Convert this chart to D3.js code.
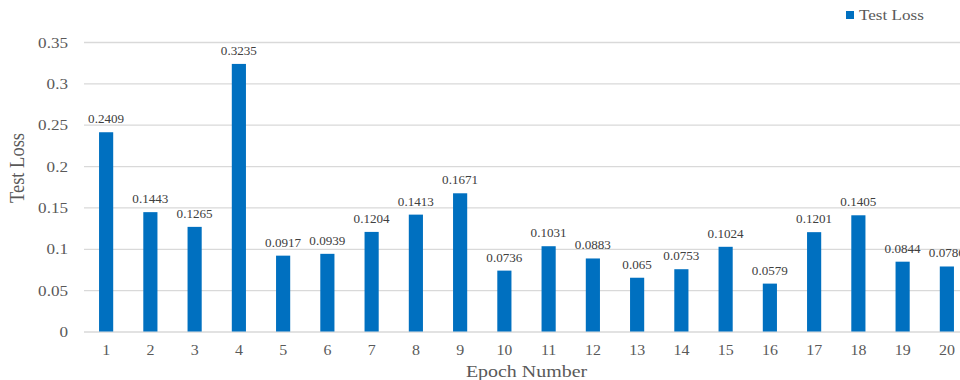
<!DOCTYPE html>
<html>
<head>
<meta charset="utf-8">
<script src="https://cdn.jsdelivr.net/npm/d3@7"></script>
<style>
  html, body { margin: 0; padding: 0; background: #fff; }
  svg { display: block; }
  text { font-family: "Liberation Serif", "Times New Roman", serif; }
</style>
</head>
<body>
<svg id="chart" width="960" height="380"></svg>
<script>
// Test loss per training epoch
const epochs = ["1","2","3","4","5","6","7","8","9","10","11","12","13","14","15","16","17","18","19","20"];
const testLoss = [0.2409, 0.1443, 0.1265, 0.3235, 0.0917, 0.0939, 0.1204, 0.1413, 0.1671, 0.0736,
                  0.1031, 0.0883, 0.065, 0.0753, 0.1024, 0.0579, 0.1201, 0.1405, 0.0844, 0.0786];
const yTicks = [0, 0.05, 0.1, 0.15, 0.2, 0.25, 0.3, 0.35];
const yTickLabels = ["0", "0.05", "0.1", "0.15", "0.2", "0.25", "0.3", "0.35"];
const seriesName = "Test Loss";
const xTitle = "Epoch Number";
const yTitle = "Test Loss";

const W = 960, H = 380;
const plot = { left: 84, right: 969, top: 42, bottom: 331.5 };
const stretch = 1.14;           // wide serif text
const barColor = "#0070c0";
const gridColor = "#d9d9d9";

const svg = d3.select("#chart");

const x = d3.scaleBand()
  .domain(epochs)
  .range([plot.left, plot.right])
  .paddingInner(0.68)
  .paddingOuter(0.34);

const y = d3.scaleLinear()
  .domain([0, 0.35])
  .range([plot.bottom, plot.top]);

// y axis with full-width gridlines
const yAxis = svg.append("g")
  .attr("transform", `translate(${plot.left},0)`)
  .call(d3.axisLeft(y)
    .tickValues(yTicks)
    .tickFormat((d, i) => yTickLabels[i])
    .tickSize(-(W - plot.left)));
yAxis.select(".domain").remove();
yAxis.selectAll(".tick line")
  .attr("stroke", gridColor)
  .attr("stroke-width", 1.3);
yAxis.selectAll(".tick text")
  .attr("x", null).attr("dy", null)
  .attr("transform", `translate(-16,5) scale(${stretch},1)`)
  .attr("text-anchor", "end")
  .attr("fill", "#595959")
  .style("font-size", "15px")
  .style("font-family", "'Liberation Serif', serif");

// x axis: category labels only
const xAxis = svg.append("g")
  .attr("transform", `translate(0,${plot.bottom})`)
  .call(d3.axisBottom(x).tickSize(0));
xAxis.select(".domain").remove();
xAxis.selectAll(".tick text")
  .attr("y", null).attr("dy", null)
  .attr("transform", `translate(0,23) scale(${stretch},1)`)
  .attr("fill", "#595959")
  .style("font-size", "14px")
  .style("font-family", "'Liberation Serif', serif");

// bars
const data = epochs.map((e, i) => ({ epoch: e, value: testLoss[i] }));
svg.append("g").selectAll("rect")
  .data(data)
  .join("rect")
  .attr("x", d => x(d.epoch))
  .attr("y", d => y(d.value))
  .attr("width", x.bandwidth())
  .attr("height", d => y(0) - y(d.value))
  .attr("fill", barColor);

// value labels above bars
svg.append("g").selectAll("text")
  .data(data)
  .join("text")
  .attr("transform", d => `translate(${x(d.epoch) + x.bandwidth() / 2},${y(d.value) - 9}) scale(${stretch},1)`)
  .attr("text-anchor", "middle")
  .attr("fill", "#404040")
  .style("font-size", "11.5px")
  .text(d => String(d.value));

// axis titles
svg.append("text")
  .attr("transform", `translate(${(plot.left + plot.right) / 2},377) scale(${stretch},1)`)
  .attr("text-anchor", "middle")
  .attr("fill", "#595959")
  .style("font-size", "17.5px")
  .text(xTitle);

svg.append("text")
  .attr("transform", `translate(24,168) rotate(-90) scale(1,${stretch})`)
  .attr("text-anchor", "middle")
  .attr("fill", "#595959")
  .style("font-size", "18.5px")
  .text(yTitle);

// legend
const legend = svg.append("g").attr("transform", "translate(846,11)");
legend.append("rect")
  .attr("width", 8).attr("height", 8)
  .attr("fill", barColor);
legend.append("text")
  .attr("transform", `translate(13,9) scale(${stretch},1)`)
  .attr("fill", "#595959")
  .style("font-size", "15px")
  .text(seriesName);
</script>
</body>
</html>
